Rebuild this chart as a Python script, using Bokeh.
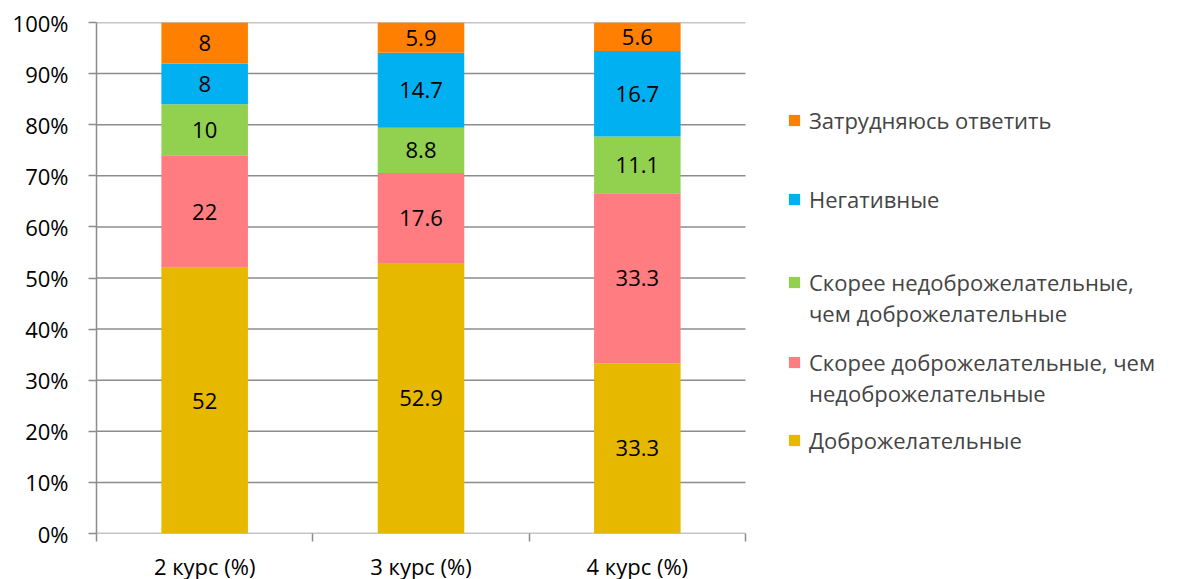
from bokeh.plotting import figure
from bokeh.models import (ColumnDataSource, Range1d, FixedTicker, Legend, LegendItem,
                          PrintfTickFormatter)
from bokeh.core.properties import value
from bokeh.embed import file_html
from bokeh.resources import INLINE

categories = ["2 курс (%)", "3 курс (%)", "4 курс (%)"]
dobro = [52, 52.9, 33.3]            # Доброжелательные
skoree_dobro = [22, 17.6, 33.3]     # Скорее доброжелательные, чем недоброжелательные
skoree_nedobro = [10, 8.8, 11.1]    # Скорее недоброжелательные, чем доброжелательные
negativ = [8, 14.7, 16.7]           # Негативные
zatrud = [8, 5.9, 5.6]              # Затрудняюсь ответить
y_ticks = [0, 10, 20, 30, 40, 50, 60, 70, 80, 90, 100]

series = [dobro, skoree_dobro, skoree_nedobro, negativ, zatrud]
names = [["Доброжелательные"],
         ["Скорее доброжелательные, чем", "недоброжелательные"],
         ["Скорее недоброжелательные,", "чем доброжелательные"],
         ["Негативные"],
         ["Затрудняюсь ответить"]]
colors = ["#E6B800", "#FF7C80", "#92D050", "#00B0F0", "#FF8000"]
keys = ["s0", "s1", "s2", "s3", "s4"]

FONT = "Open Sans"

x = [i + 1 for i in range(len(categories))]
totals = [sum(s[i] for s in series) for i in range(len(categories))]
data = {"x": x}
for k, s in zip(keys, series):
    data[k] = [v / t * 100 for v, t in zip(s, totals)]
src = ColumnDataSource(data)

# plot area for bars is 649px wide; the frame extends to the right to host the legend
PLOT_W = 649
FRAME_W = 1080
x_lo, x_hi = 0.5, 0.5 + len(categories)
x_end = x_lo + (x_hi - x_lo) * FRAME_W / PLOT_W

p = figure(frame_width=FRAME_W, frame_height=511, output_backend="svg", toolbar_location=None,
           x_range=Range1d(x_lo, x_end), y_range=Range1d(0, 100),
           min_border_left=96, min_border_top=22, min_border_bottom=40,
           min_border_right=0)
p.outline_line_color = None
p.background_fill_color = "white"
p.border_fill_color = "white"

grid_color = "#8C8C8C"
# horizontal gridlines limited to the bar area
p.segment(x0=[x_lo] * len(y_ticks), x1=[x_hi] * len(y_ticks), y0=y_ticks, y1=y_ticks,
          line_color=grid_color, line_width=1.5)

renderers = p.vbar_stack(keys, x="x", width=0.4, source=src, color=colors,
                         line_color=None)

# labels
lx, ly, lt = [], [], []
for i in range(len(categories)):
    base = 0
    for k, s in zip(keys, series):
        h = data[k][i]
        lx.append(x[i]); ly.append(base + h / 2); lt.append(f"{s[i]:g}")
        base += h
p.text(x=lx, y=ly, text=lt, text_align="center", text_baseline="middle",
       text_font=value(FONT), text_font_size="22px", text_color="black")

# axes
p.xaxis.ticker = FixedTicker(ticks=x, minor_ticks=[x_lo + i for i in range(len(categories) + 1)])
p.xaxis.major_label_overrides = {xi: c for xi, c in zip(x, categories)}
p.xaxis.major_tick_out = 0
p.xaxis.major_tick_in = 0
p.xaxis.minor_tick_out = 8
p.xaxis.minor_tick_in = 0
p.xaxis.minor_tick_line_color = grid_color
p.xaxis.minor_tick_line_width = 1.5
p.xaxis.axis_line_color = None
p.xaxis.major_label_text_font = FONT
p.xaxis.major_label_text_font_size = "22px"
p.xaxis.major_label_text_color = "black"
p.xaxis.major_label_standoff = 9

p.yaxis.ticker = FixedTicker(ticks=y_ticks, minor_ticks=[])
p.yaxis.formatter = PrintfTickFormatter(format="%d%%")
p.yaxis.major_tick_out = 8
p.yaxis.major_tick_in = 0
p.yaxis.major_tick_line_color = grid_color
p.yaxis.major_tick_line_width = 1.5
p.yaxis.axis_line_color = grid_color
p.yaxis.axis_line_width = 1.5
p.yaxis.major_label_text_font = FONT
p.yaxis.major_label_text_font_size = "22px"
p.yaxis.major_label_text_color = "black"
p.yaxis.major_label_standoff = 20

p.xgrid.grid_line_color = None
p.ygrid.grid_line_color = None

# invisible helper renderer for continuation lines of multi-line legend labels
blank = p.scatter(x=[], y=[], marker="square", fill_alpha=0, line_alpha=0)

# one legend per entry (top to bottom), placed in screen units relative to the frame
legend_offsets = {4: 398, 3: 319, 2: 205, 1: 125, 0: 78}
for idx in [4, 3, 2, 1, 0]:
    lines = names[idx]
    items = [LegendItem(label=lines[0], renderers=[renderers[idx]])]
    for extra in lines[1:]:
        items.append(LegendItem(label=extra, renderers=[blank]))
    lg = Legend(items=items, location=(691, legend_offsets[idx]), orientation="vertical",
                label_text_font=FONT, label_text_font_size="22px",
                glyph_width=14, glyph_height=14, label_standoff=8,
                label_height=30, spacing=1, padding=0, margin=0,
                border_line_color=None, background_fill_alpha=0)
    p.add_layout(lg, "center")

open("out.html", "w").write(file_html(p, INLINE))
